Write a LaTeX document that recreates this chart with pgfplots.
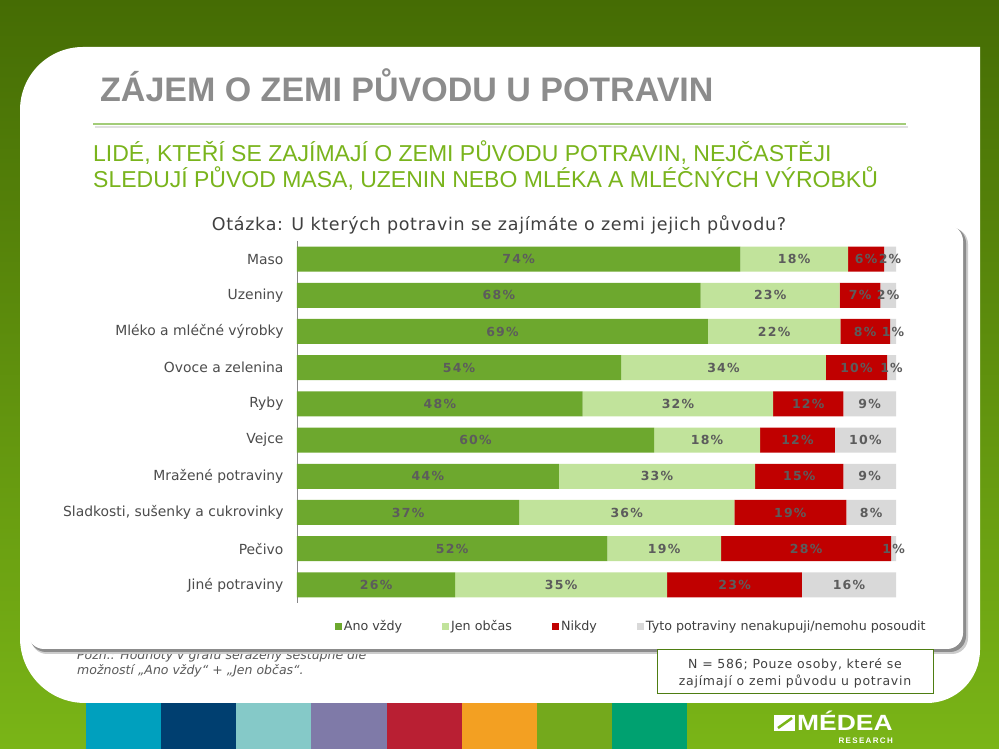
\documentclass[border=0pt]{standalone}
\usepackage{fontspec}
\setmainfont{DejaVu Sans}
\newfontfamily\libsans{Liberation Sans}
\newfontfamily\lblfont[LetterSpace=10]{DejaVu Sans}
\newfontfamily\spfont[LetterSpace=6]{DejaVu Sans}
\newfontfamily\ttlfont[LetterSpace=4]{DejaVu Sans}
\usepackage{pgfplots}
\usepackage{pgfplotstable}
\pgfplotsset{compat=1.18}
\definecolor{cA}{HTML}{6DA82E}
\definecolor{cB}{HTML}{C1E39B}
\definecolor{cC}{HTML}{C00000}
\definecolor{cD}{HTML}{D9D9D9}
\definecolor{bgtop}{HTML}{456C04}
\definecolor{bgbot}{HTML}{7AB517}
\definecolor{subgreen}{HTML}{79B41C}
\definecolor{lineg}{HTML}{A2CC78}
\definecolor{txt}{HTML}{404040}
\definecolor{boxg}{HTML}{4E7D12}
\definecolor{s1}{HTML}{00A0BE}
\definecolor{s2}{HTML}{003F70}
\definecolor{s3}{HTML}{85C9C8}
\definecolor{s4}{HTML}{7F7AA8}
\definecolor{s5}{HTML}{B91F33}
\definecolor{s6}{HTML}{F3A022}
\definecolor{s7}{HTML}{74A91C}
\definecolor{s8}{HTML}{00A170}

\pgfplotstableread{
y a b c d la lb lc ld
9 74.0 18.0 6.0 2.0 74 18 6 2
8 67.4 23.2 6.8 2.6 68 23 7 2
7 68.6 22.1 8.3 1.0 69 22 8 1
6 54.1 34.2 10.2 1.5 54 34 10 1
5 47.7 31.8 11.7 8.8 48 32 12 9
4 59.6 17.7 12.5 10.2 60 18 12 10
3 43.7 32.8 14.7 8.8 44 33 15 9
2 37.1 35.9 18.7 8.3 37 36 19 8
1 51.8 19.0 28.4 0.8 52 19 28 1
0 26.4 35.4 22.5 15.7 26 35 23 16
}\data

\begin{document}
\begin{tikzpicture}
\useasboundingbox (0,0) rectangle (999pt,749pt);
\clip (0,0) rectangle (999pt,749pt);
\shade[top color=bgtop, bottom color=bgbot] (0,0) rectangle (999pt,749pt);
\begin{scope}[x=1pt,y=-1pt,yshift=749pt]
  % white panel
  \fill[white] (20,110) arc[start angle=180,end angle=270,radius=63] -- (980,47) -- (980,650)
     arc[start angle=0,end angle=90,radius=53] -- (85,703)
     arc[start angle=90,end angle=180,radius=65] -- cycle;
  % title
  \node[anchor=base west, text=black!45, font=\libsans\bfseries\fontsize{34}{40}\selectfont, inner sep=0pt] at (100,102) {ZÁJEM O ZEMI PŮVODU U POTRAVIN};
  % line
  \draw[black!12, line width=2pt] (95,127) -- (908,127);
  \draw[lineg, line width=2pt] (93,124) -- (906,124);
  % subtitle
  \node[anchor=base west, text=subgreen, font=\libsans\fontsize{23}{27}\selectfont, inner sep=0pt] at (93,162) {LIDÉ, KTEŘÍ SE ZAJÍMAJÍ O ZEMI PŮVODU POTRAVIN, NEJČASTĚJI};
  \node[anchor=base west, text=subgreen, font=\libsans\fontsize{23}{27}\selectfont, inner sep=0pt] at (93,188) {SLEDUJÍ PŮVOD MASA, UZENIN NEBO MLÉKA A MLÉČNÝCH VÝROBKŮ};
  % note
  \node[anchor=base west, text=black!65, font=\itshape\fontsize{12.5}{15}\selectfont, inner sep=0pt] at (77,660) {Pozn.: Hodnoty v grafu seřazeny sestupně dle};
  \node[anchor=base west, text=black!65, font=\itshape\fontsize{12.5}{15}\selectfont, inner sep=0pt] at (77,675) {možností „Ano vždy“ + „Jen občas“.};
  % chart box
  \fill[black!20, rounded corners=16pt] (31,228) rectangle (968,654);
  \fill[black!45, rounded corners=16pt] (30,227) rectangle (966,652);
  \fill[white, rounded corners=16pt] (28,225) rectangle (963,649);
  \node[anchor=base, text=txt, font=\ttlfont\fontsize{17.5}{20}\selectfont, inner sep=0pt] at (499,231) {Otázka: U kterých potravin se zajímáte o zemi jejich původu?};
  % N box
  \draw[boxg, line width=1pt, fill=white] (657,650) rectangle (933,694);
  \node[anchor=base, text=txt, font=\spfont\fontsize{12.5}{15}\selectfont, inner sep=0pt] at (795,669) {N = 586; Pouze osoby, které se};
  \node[anchor=base, text=txt, font=\spfont\fontsize{12.5}{15}\selectfont, inner sep=0pt] at (795,686) {zajímají o zemi původu u potravin};
  % strips
  \fill[s1] (86,703) rectangle (161,749);
  \fill[s2] (161,703) rectangle (236,749);
  \fill[s3] (236,703) rectangle (311,749);
  \fill[s4] (311,703) rectangle (387,749);
  \fill[s5] (387,703) rectangle (462,749);
  \fill[s6] (462,703) rectangle (537,749);
  \fill[s7] (537,703) rectangle (612,749);
  \fill[s8] (612,703) rectangle (687,749);
  % logo
  \fill[white] (774,715) rectangle (795,731);
  \draw[bgbot, line width=2.5pt] (778,728) -- (792,718);
  \node[anchor=base west, text=white, font=\libsans\bfseries\fontsize{22}{24}\selectfont, inner sep=0pt, xscale=1.2] at (797,731) {MÉDEA};
  \node[anchor=base east, text=white, font=\libsans\bfseries\fontsize{8}{9}\selectfont, inner sep=0pt] at (893,744) {R\,E\,S\,E\,A\,R\,C\,H};
\end{scope}

\begin{axis}[
  at={(297pt,146pt)}, anchor=south west,
  width=599pt, height=362pt, scale only axis,
  xbar stacked, bar width=25pt,
  xmin=0, xmax=100, ymin=-0.5, ymax=9.5,
  axis x line=none, axis y line*=left,
  axis line style={draw=black!47, line width=0.8pt},
  ytick={0,...,9},
  yticklabels={Jiné potraviny, Pečivo, {Sladkosti, sušenky a cukrovinky}, Mražené potraviny, Vejce, Ryby, Ovoce a zelenina, Mléko a mléčné výrobky, Uzeniny, Maso},
  major tick length=0pt,
  yticklabel style={font=\fontsize{13.9}{16}\selectfont, text=black!70, xshift=-10pt},
  legend columns=-1,
  legend style={at={(0.558,-0.066)}, anchor=center, draw=none, fill=none,
    font=\fontsize{12.7}{15}\selectfont, text=txt,
    nodes={text height=1.8ex, text depth=0.4ex},
    /tikz/every even column/.append style={column sep=38pt}},
  legend image code/.code={\fill[#1] (0pt,-3.5pt) rectangle (7pt,3.5pt);},
]
\addplot[fill=cA, draw=none] table[x=a, y=y] {\data};
\addplot[fill=cB, draw=none] table[x=b, y=y] {\data};
\addplot[fill=cC, draw=none] table[x=c, y=y] {\data};
\addplot[fill=cD, draw=none] table[x=d, y=y] {\data};
\legend{Ano vždy, Jen občas, Nikdy, Tyto potraviny nenakupuji/nemohu posoudit}
\end{axis}

\begin{axis}[
  at={(297pt,146pt)}, anchor=south west,
  width=599pt, height=362pt, scale only axis,
  xmin=0, xmax=100, ymin=-0.5, ymax=9.5,
  hide axis, clip=false,
  point meta=explicit symbolic,
  nodes near coords={\pgfplotspointmeta\%},
  nodes near coords style={anchor=center, inner sep=0pt, font=\lblfont\bfseries\fontsize{12.5}{14}\selectfont, text=black!64},
]
\addplot[draw=none, mark=none] table[x expr=\thisrow{a}/2, y=y, meta=la] {\data};
\addplot[draw=none, mark=none] table[x expr=\thisrow{a}+\thisrow{b}/2, y=y, meta=lb] {\data};
\addplot[draw=none, mark=none] table[x expr=\thisrow{a}+\thisrow{b}+\thisrow{c}/2, y=y, meta=lc] {\data};
\addplot[draw=none, mark=none] table[x expr=\thisrow{a}+\thisrow{b}+\thisrow{c}+\thisrow{d}/2, y=y, meta=ld] {\data};
\end{axis}
\end{tikzpicture}
\end{document}
